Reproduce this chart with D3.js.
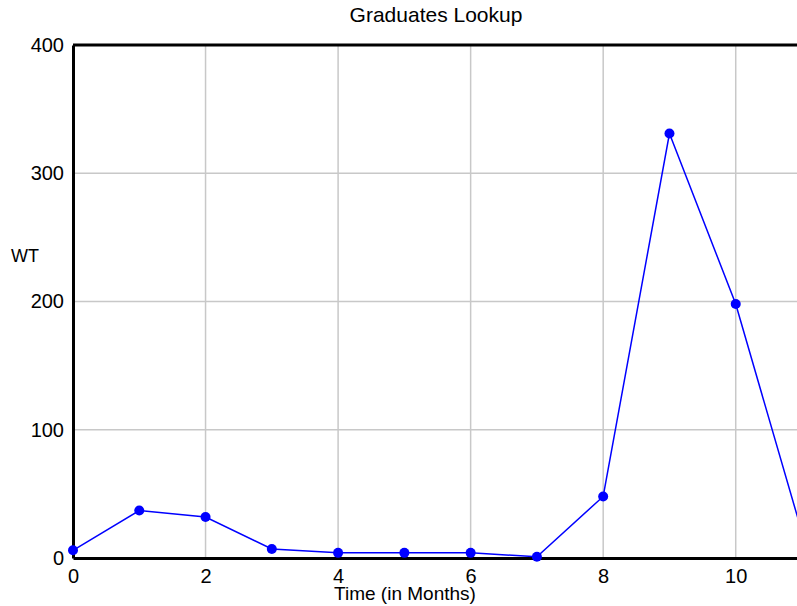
<!DOCTYPE html>
<html>
<head>
<meta charset="utf-8">
<script src="https://cdn.jsdelivr.net/npm/d3@7"></script>
<style>
  html, body { margin: 0; padding: 0; background: #fff; overflow: hidden; }
  text { font-family: "Helvetica Neue", Helvetica, Arial, "Liberation Sans", sans-serif; fill: #000; }
</style>
</head>
<body>
<div id="chart"></div>
<script>
// data
const months = [0, 1, 2, 3, 4, 5, 6, 7, 8, 9, 10, 11];
const wt = [6, 37, 32, 7, 4, 4, 4, 1, 48, 331, 198, 20];
const xTicks = [0, 2, 4, 6, 8, 10];
const yTicks = [0, 100, 200, 300, 400];

const outerWidth = 797;
const outerHeight = 606;
const margin = { top: 45, left: 73, bottom: 48 };
const plotRight = 802;
const plotBottom = outerHeight - margin.bottom; // 558

const svg = d3.select("#chart")
  .append("svg")
  .attr("width", outerWidth)
  .attr("height", outerHeight);

const x = d3.scaleLinear().domain([0, 11]).range([margin.left, plotRight]);
const y = d3.scaleLinear().domain([0, 400]).range([plotBottom, margin.top]);

// grid
svg.append("g")
  .selectAll("line.v")
  .data(xTicks.filter((d) => d > 0))
  .enter()
  .append("line")
  .attr("x1", (d) => x(d)).attr("x2", (d) => x(d))
  .attr("y1", y(400)).attr("y2", y(0))
  .attr("stroke", "#c8c8c8")
  .attr("stroke-width", 1.5);

svg.append("g")
  .selectAll("line.h")
  .data(yTicks.filter((d) => d > 0 && d < 400))
  .enter()
  .append("line")
  .attr("x1", x(0)).attr("x2", plotRight)
  .attr("y1", (d) => y(d)).attr("y2", (d) => y(d))
  .attr("stroke", "#c8c8c8")
  .attr("stroke-width", 1.5);

// axes (no tick marks, only labels)
const xAxis = svg.append("g")
  .attr("transform", `translate(0,${plotBottom})`)
  .call(d3.axisBottom(x).tickValues(xTicks).tickSize(0).tickPadding(11));
xAxis.select(".domain").attr("stroke", "#000").attr("stroke-width", 3);
xAxis.selectAll("text").attr("font-size", "20px").attr("font-family", null);

const yAxis = svg.append("g")
  .attr("transform", `translate(${margin.left},0)`)
  .call(d3.axisLeft(y).tickValues(yTicks).tickSize(0).tickPadding(9));
yAxis.select(".domain").attr("stroke", "#000").attr("stroke-width", 3);
yAxis.selectAll("text").attr("font-size", "20px").attr("font-family", null);

// top border
svg.append("line")
  .attr("x1", x(0)).attr("x2", plotRight)
  .attr("y1", y(400)).attr("y2", y(400))
  .attr("stroke", "#000")
  .attr("stroke-width", 3);

// series
const pts = months.map((m, i) => ({ m, v: wt[i] }));
svg.append("path")
  .datum(pts)
  .attr("fill", "none")
  .attr("stroke", "#0000ff")
  .attr("stroke-width", 1.5)
  .attr("d", d3.line().x((d) => x(d.m)).y((d) => y(d.v)));

svg.append("g")
  .selectAll("circle")
  .data(pts)
  .enter()
  .append("circle")
  .attr("cx", (d) => x(d.m))
  .attr("cy", (d) => y(d.v))
  .attr("r", 5)
  .attr("fill", "#0000ff");

// labels
svg.append("text")
  .attr("x", 436)
  .attr("y", 22)
  .attr("text-anchor", "middle")
  .attr("font-size", "21px")
  .text("Graduates Lookup");

svg.append("text")
  .attr("x", 11)
  .attr("y", 262)
  .attr("font-size", "18px")
  .text("WT");

svg.append("text")
  .attr("x", 405)
  .attr("y", 600)
  .attr("text-anchor", "middle")
  .attr("font-size", "19px")
  .text("Time (in Months)");
</script>
</body>
</html>
